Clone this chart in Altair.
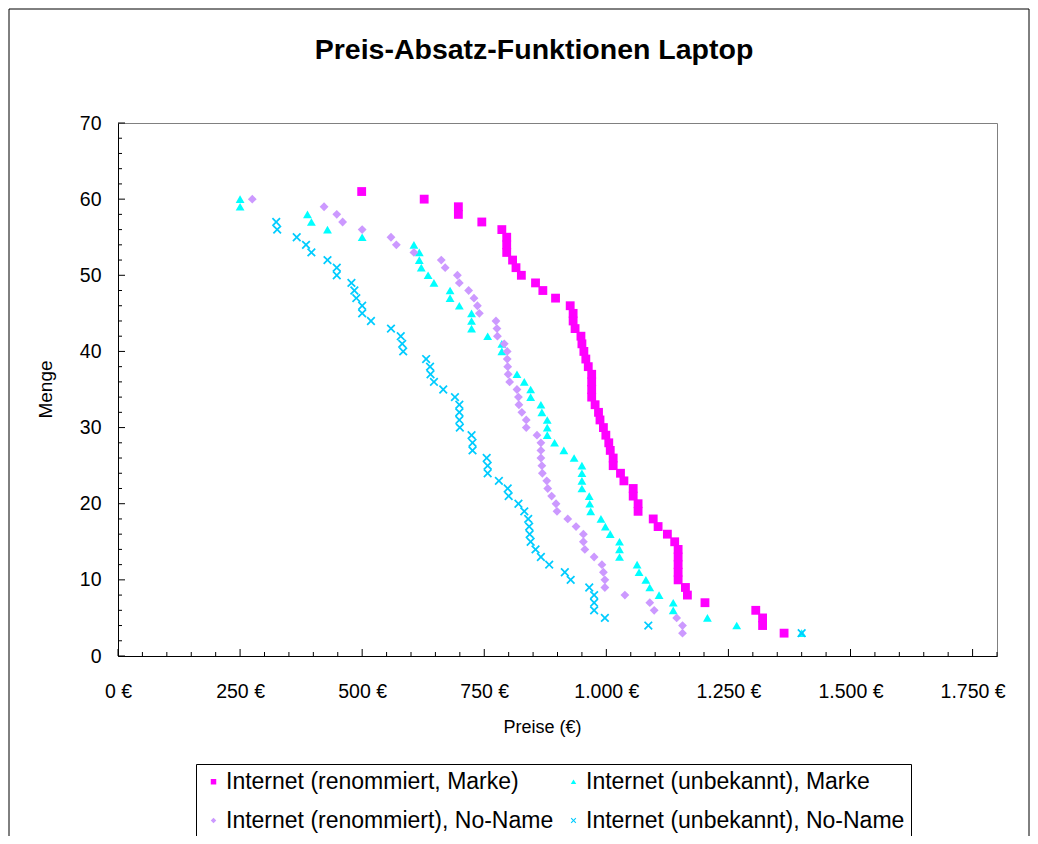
import altair as alt
import pandas as pd

title_text = "Preis-Absatz-Funktionen Laptop"
series_names = [
    "Internet (renommiert, Marke)",
    "Internet (unbekannt), Marke",
    "Internet (renommiert), No-Name",
    "Internet (unbekannt), No-Name",
]
series_colors = ["#FF00FF", "#00FFFF", "#CC99FF", "#00CCFF"]
x_cross = "M-1,-0.72L-0.72,-1L0,-0.28L0.72,-1L1,-0.72L0.28,0L1,0.72L0.72,1L0,0.28L-0.72,1L-1,0.72L-0.28,0Z"
series_shapes = ["square", "triangle-up", "diamond", x_cross]

# Internet (renommiert, Marke)
q_rm = [61, 60, 59, 58, 57, 56, 55, 54, 53, 52, 51, 50, 49, 48, 47, 46, 45, 44, 43, 42,
        41, 40, 39, 38, 37, 36, 35, 34, 33, 32, 31, 30, 29, 28, 27, 26, 25, 24, 23, 22,
        21, 20, 19, 18, 17, 16, 15, 14, 13, 12, 11, 10, 9, 8, 7, 6, 5, 4, 3]
p_rm = [499, 627, 697, 697, 745, 786, 796, 796, 796, 808, 815, 826, 855, 870, 896, 926, 932, 932, 936, 948,
        950, 954, 958, 963, 970, 970, 970, 970, 977, 984, 987, 994, 999, 1005, 1008, 1014, 1014, 1029, 1036, 1055,
        1055, 1065, 1065, 1096, 1106, 1125, 1140, 1147, 1147, 1147, 1147, 1147, 1162, 1166, 1202, 1306, 1320, 1320, 1364]

# Internet (unbekannt), Marke
q_um = [60, 59, 58, 57, 56, 55, 54, 53, 52, 51, 50, 49, 48, 47, 46, 45, 44, 43, 42, 41,
        40, 37, 36, 35, 34, 33, 32, 31, 30, 29, 28, 27, 26, 25, 24, 23, 22, 21, 20, 19,
        18, 17, 16, 15, 14, 13, 12, 11, 10, 9, 8, 7, 6, 5, 4, 3]
p_um = [250, 250, 388, 396, 429, 500, 606, 617, 617, 621, 635, 647, 680, 680, 699, 724, 724, 724, 757, 786,
        786, 817, 832, 845, 845, 866, 868, 879, 879, 879, 894, 913, 934, 950, 950, 950, 950, 965, 966, 968,
        989, 998, 1008, 1027, 1027, 1027, 1063, 1067, 1081, 1089, 1108, 1137, 1137, 1207, 1267, 1400]

# Internet (renommiert), No-Name
q_rn = [60, 59, 58, 57, 56, 55, 54, 53, 52, 51, 50, 49, 48, 47, 46, 45, 44, 43, 42, 41,
        40, 39, 38, 37, 36, 35, 34, 33, 32, 31, 30, 29, 28, 27, 26, 25, 24, 23, 22, 21,
        20, 19, 18, 17, 16, 15, 14, 13, 12, 11, 10, 9, 8, 7, 6, 5, 4, 3]
p_rn = [275, 422, 448, 460, 500, 559, 570, 606, 662, 670, 695, 699, 718, 729, 736, 740, 774, 776, 777, 791,
        797, 797, 798, 799, 802, 817, 820, 821, 827, 836, 836, 858, 866, 866, 866, 868, 869, 878, 880, 888,
        897, 899, 921, 938, 953, 953, 956, 975, 991, 994, 997, 997, 1038, 1089, 1098, 1144, 1156, 1156]

# Internet (unbekannt), No-Name
q_un = [57, 56, 55, 54, 53, 52, 51, 50, 49, 48, 47, 46, 45, 44, 43, 42, 41, 40, 39, 38,
        37, 36, 35, 34, 33, 32, 31, 30, 29, 28, 27, 26, 25, 24, 23, 22, 21, 20, 19, 18,
        17, 16, 15, 14, 13, 12, 11, 10, 9, 8, 7, 6, 5, 4, 3]
p_un = [324, 326, 366, 385, 396, 429, 448, 448, 478, 484, 488, 500, 500, 518, 559, 579, 582, 584, 631, 639,
        640, 647, 666, 690, 699, 699, 699, 700, 724, 726, 726, 755, 757, 757, 780, 798, 800, 820, 832, 840,
        842, 843, 845, 855, 866, 883, 915, 927, 965, 975, 975, 975, 997, 1086, 1400]

x_label_values = [0, 250, 500, 750, 1000, 1250, 1500, 1750]
y_label_values = [0, 10, 20, 30, 40, 50, 60, 70]
x_tick_values = list(range(0, 1801, 50))
y_tick_values = list(range(0, 71, 2))

FONT = "Liberation Sans"
W, H = 879, 533

rows = []
for name, qs, ps in zip(series_names, [q_rm, q_um, q_rn, q_un], [p_rm, p_um, p_rn, p_un]):
    for q, p in zip(qs, ps):
        rows.append({"Serie": name, "Preis": p, "Menge": q})
df = pd.DataFrame(rows)

xscale = alt.Scale(domain=[0, 1800], nice=False, zero=False)
yscale = alt.Scale(domain=[0, 70], nice=False, zero=False)

x_axis = alt.Axis(
    values=x_label_values,
    labelExpr="replace(format(datum.value, ',d'), ',', '.') + ' €'",
    ticks=False, tickSize=0, grid=False, domainColor="black", domainWidth=1,
    labelFont=FONT, labelFontSize=19.5, labelColor="black", labelPadding=26, labelFlush=False,
    title="Preise (€)", titleFont=FONT, titleFontSize=18, titleFontWeight="normal",
    titleColor="black", titleX=424, titleY=71, titleBaseline="middle", titleAlign="center")
y_axis = alt.Axis(
    values=y_label_values, ticks=False, tickSize=0, grid=False,
    domainColor="black", domainWidth=1,
    labelFont=FONT, labelFontSize=19.5, labelColor="black", labelPadding=17, labelFlush=False,
    title="Menge", titleFont=FONT, titleFontSize=19, titleFontWeight="normal",
    titleColor="black", titleX=-73, titleY=266, titleBaseline="middle", titleAlign="center")

points = alt.Chart(df).mark_point(filled=True, size=78, opacity=1).encode(
    x=alt.X("Preis:Q", scale=xscale, axis=x_axis),
    y=alt.Y("Menge:Q", scale=yscale, axis=y_axis),
    color=alt.Color("Serie:N", scale=alt.Scale(domain=series_names, range=series_colors),
                    legend=alt.Legend(orient="none", legendX=78, legendY=641, columns=2,
                                      direction="horizontal", title=None,
                                      labelFont=FONT, labelFontSize=23, labelColor="black",
                                      labelLimit=0,
                                      symbolSize=30, symbolStrokeWidth=0, labelOffset=1,
                                      columnPadding=8, rowPadding=15, padding=6,
                                      strokeColor="black", fillColor="white")),
    shape=alt.Shape("Serie:N", scale=alt.Scale(domain=series_names, range=series_shapes)),
)

xt_major = alt.Chart(pd.DataFrame({"Preis": [v for v in x_tick_values if v % 250 == 0]})).mark_rule(
    color="black", strokeWidth=1).encode(
    x=alt.X("Preis:Q", scale=xscale, axis=x_axis), y=alt.value(H), y2=alt.value(H - 7))
xt_minor = alt.Chart(pd.DataFrame({"Preis": [v for v in x_tick_values if v % 250 != 0]})).mark_rule(
    color="black", strokeWidth=1).encode(
    x=alt.X("Preis:Q", scale=xscale, axis=x_axis), y=alt.value(H), y2=alt.value(H - 4))
yt_major = alt.Chart(pd.DataFrame({"Menge": [v for v in y_tick_values if v % 10 == 0]})).mark_rule(
    color="black", strokeWidth=1).encode(
    y=alt.Y("Menge:Q", scale=yscale, axis=y_axis), x=alt.value(0), x2=alt.value(7))
yt_minor = alt.Chart(pd.DataFrame({"Menge": [v for v in y_tick_values if v % 10 != 0]})).mark_rule(
    color="black", strokeWidth=1).encode(
    y=alt.Y("Menge:Q", scale=yscale, axis=y_axis), x=alt.value(0), x2=alt.value(4))

frame = alt.Chart(pd.DataFrame({"f": [0]})).mark_rect(
    fill="transparent", stroke="black", strokeWidth=1).encode(
    x=alt.value(-109), x2=alt.value(911), y=alt.value(-114), y2=alt.value(760))

title = alt.Chart(pd.DataFrame({"t": [title_text]})).mark_text(
    font=FONT, fontSize=28.5, fontWeight="bold", color="black", align="center", baseline="alphabetic").encode(
    text="t:N", x=alt.value(416), y=alt.value(-64))

chart = alt.layer(points, xt_major, xt_minor, yt_major, yt_minor, frame, title).properties(
    width=W, height=H,
    autosize=alt.AutoSizeParams(type="none"),
    padding={"left": 110, "top": 115, "right": 33, "bottom": 180},
    background="white",
).configure_view(stroke="#808080", strokeWidth=1)

chart.save("out.html", embed_options={"renderer": "svg", "actions": False})
